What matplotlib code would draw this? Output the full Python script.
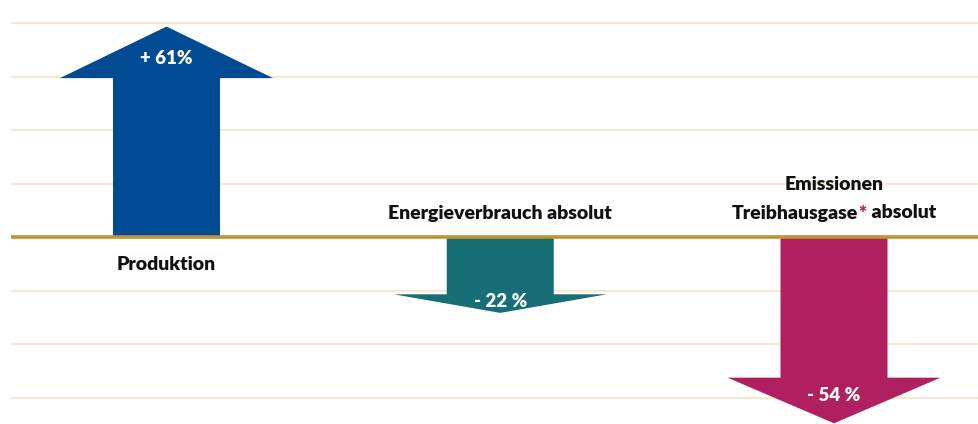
import matplotlib
matplotlib.use("Agg")
import matplotlib.pyplot as plt
import numpy as np

# ---- data ----
categories = ["Produktion", "Energieverbrauch absolut", "Emissionen\nTreibhausgase* absolut"]
values = [61, -22, -54]
value_labels = ["+ 61%", "- 22 %", "- 54 %"]
colors = ["#004B93", "#176E75", "#B01F5F"]

plt.rcParams['font.family'] = ['Lato', 'DejaVu Sans']

W, H = 979, 424
fig = plt.figure(figsize=(W / 100, H / 100), dpi=100)
ax = fig.add_axes([0, 0, 1, 1])

# scale: pixels per percent
ppp = 3.45
base_px = 237  # from top
ytop = base_px / ppp
ybot = -(H - base_px) / ppp
ax.set_ylim(ybot, ytop)

spacing_px = 333.75
x0_px = 166.5
ax.set_xlim(-x0_px / spacing_px, (W - x0_px) / spacing_px)
ax.axis("off")

# grid lines
step = 53.5 / ppp
xg0 = (11 - x0_px) / spacing_px
xg1 = (W - x0_px) / spacing_px
for k in list(range(1, 5)) + list(range(-1, -4, -1)):
    ax.plot([xg0, xg1], [k * step, k * step], color="#F3EAD6", lw=1.6, zorder=0,
            solid_capstyle="butt")

# arrows
shaft_w = 107 / spacing_px
head_w = 213 / spacing_px
for i, v in enumerate(values):
    hl = abs(v) * 0.245
    ax.arrow(i, 0, 0, v, width=shaft_w, head_width=head_w, head_length=hl,
             length_includes_head=True, color=colors[i], lw=0, zorder=2)
    ax.text(i, v * 0.85, value_labels[i], color="white", fontsize=13.5,
            fontweight="heavy", ha="center", va="center", zorder=3)

# baseline
ax.plot([xg0, xg1], [0, 0], color="#BE9530", lw=2.6, zorder=4, solid_capstyle="butt")

# category labels
fs = 14
fw = "heavy"
ax.annotate("Produktion", (0, 0), xytext=(0, -28), textcoords="offset pixels",
            ha="center", va="center", fontsize=fs, fontweight=fw, color="#111111")
ax.annotate("Energieverbrauch absolut", (1, 0), xytext=(0, 24), textcoords="offset pixels",
            ha="center", va="center", fontsize=fs, fontweight=fw, color="#111111")
ax.annotate("Emissionen", (2, 0), xytext=(0, 52), textcoords="offset pixels",
            ha="center", va="center", fontsize=fs, fontweight=fw, color="#111111")

# multi-colour second line
renderer = fig.canvas.get_renderer()
parts = [("Treibhausgase", "#111111"), ("*", colors[2]), (" absolut", "#111111")]
widths = []
for s, c in parts:
    t = ax.text(0, 0, s, fontsize=fs, fontweight=fw)
    widths.append(t.get_window_extent(renderer).width)
    t.remove()
full = ax.text(0, 0, "Treibhausgase* absolut", fontsize=fs, fontweight=fw)
total = full.get_window_extent(renderer).width
full.remove()
x_off = -total / 2
for (s, c), w in zip(parts, widths):
    ax.annotate(s, (2, 0), xytext=(x_off, 24), textcoords="offset pixels",
                ha="left", va="center", fontsize=fs, fontweight=fw, color=c)
    x_off += w

fig.savefig("out.png", dpi=100)
